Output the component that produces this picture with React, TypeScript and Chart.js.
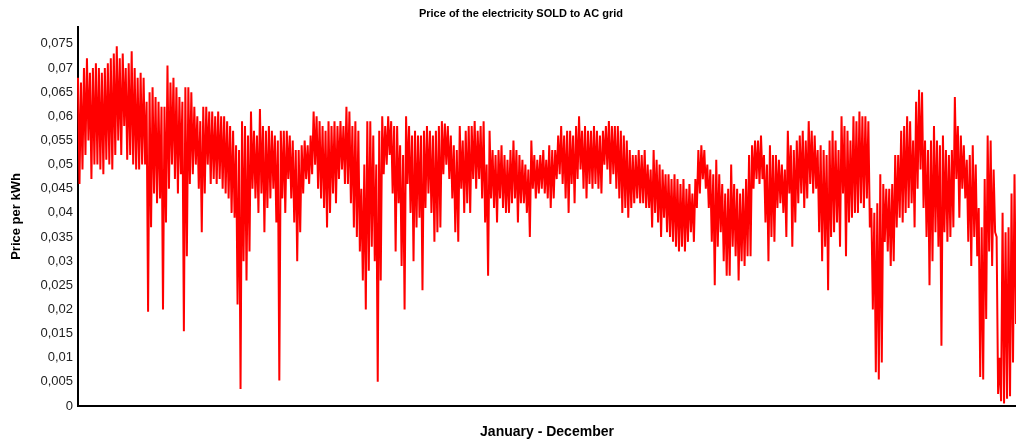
import React, { useEffect, useRef } from "react";
import { Chart, registerables } from "chart.js";

Chart.register(...registerables);

const CHART_TITLE = "Price of the electricity SOLD to AC grid";
const X_TITLE = "January - December";
const Y_TITLE = "Price per kWh";
const Y_TICKS = [0, 0.005, 0.01, 0.015, 0.02, 0.025, 0.03, 0.035, 0.04, 0.045, 0.05, 0.055, 0.06, 0.065, 0.07, 0.075];
const Y_MAX = 0.0785;

const PRICE_PART_1 = [
  0.068, 0.046, 0.067, 0.049, 0.070, 0.052, 0.072, 0.055, 0.069, 0.047, 0.070, 0.050, 0.071, 0.050, 0.070, 0.049, 0.069, 0.048, 0.070, 0.051,
  0.071, 0.050, 0.072, 0.049, 0.073, 0.052, 0.0745, 0.055, 0.072, 0.052, 0.073, 0.058, 0.070, 0.051, 0.071, 0.052, 0.0735, 0.050, 0.070, 0.049,
  0.068, 0.049, 0.069, 0.050, 0.068, 0.050, 0.063, 0.0195, 0.065, 0.037, 0.066, 0.044, 0.064, 0.042, 0.063, 0.043, 0.062, 0.020, 0.062, 0.038,
  0.0705, 0.045, 0.067, 0.050, 0.068, 0.047, 0.066, 0.044, 0.064, 0.048, 0.063, 0.0155, 0.066, 0.031, 0.066, 0.046, 0.065, 0.048, 0.062, 0.050,
  0.060, 0.045, 0.059, 0.036, 0.062, 0.044, 0.062, 0.050, 0.061, 0.046,
];
const PRICE_PART_2 = [
  0.061, 0.047, 0.060, 0.046, 0.061, 0.047, 0.060, 0.045, 0.060, 0.044, 0.059, 0.043, 0.058, 0.040, 0.057, 0.039, 0.054, 0.021, 0.053, 0.0035,
  0.059, 0.030, 0.058, 0.026, 0.056, 0.032, 0.061, 0.045, 0.057, 0.043, 0.056, 0.040, 0.0615, 0.044, 0.058, 0.036, 0.057, 0.041, 0.058, 0.043,
  0.057, 0.045, 0.056, 0.038, 0.055, 0.0053, 0.057, 0.043, 0.057, 0.040, 0.057, 0.047, 0.056, 0.043, 0.055, 0.038, 0.053, 0.030, 0.053, 0.036,
  0.054, 0.044, 0.055, 0.047, 0.054, 0.046, 0.056, 0.048, 0.061, 0.050, 0.060, 0.045, 0.059, 0.043, 0.058, 0.041, 0.057, 0.037, 0.059, 0.040,
  0.058, 0.044, 0.059, 0.042, 0.058, 0.047, 0.059, 0.049, 0.058, 0.046,
];
const PRICE_PART_3 = [
  0.062, 0.046, 0.061, 0.042, 0.058, 0.037, 0.059, 0.035, 0.057, 0.032, 0.045, 0.026, 0.050, 0.020, 0.059, 0.028, 0.059, 0.033, 0.056, 0.030,
  0.050, 0.005, 0.057, 0.026, 0.060, 0.048, 0.058, 0.050, 0.060, 0.052, 0.059, 0.044, 0.058, 0.032, 0.058, 0.042, 0.054, 0.029, 0.052, 0.020,
  0.060, 0.046, 0.058, 0.040, 0.056, 0.030, 0.057, 0.037, 0.056, 0.039, 0.056, 0.024, 0.057, 0.041, 0.058, 0.044, 0.057, 0.040, 0.056, 0.034,
  0.057, 0.036, 0.058, 0.037, 0.059, 0.048, 0.0585, 0.050, 0.058, 0.047, 0.056, 0.043, 0.054, 0.036, 0.053, 0.034, 0.058, 0.045, 0.055, 0.040,
  0.057, 0.042, 0.058, 0.040, 0.058, 0.047, 0.059, 0.045, 0.057, 0.047,
];
const PRICE_PART_4 = [
  0.058, 0.043, 0.059, 0.038, 0.050, 0.027, 0.057, 0.043, 0.053, 0.041, 0.052, 0.038, 0.053, 0.043, 0.054, 0.041, 0.052, 0.040, 0.051, 0.040,
  0.053, 0.042, 0.055, 0.043, 0.053, 0.038, 0.052, 0.042, 0.051, 0.042, 0.050, 0.040, 0.049, 0.035, 0.055, 0.045, 0.052, 0.043, 0.051, 0.044,
  0.052, 0.045, 0.053, 0.044, 0.051, 0.043, 0.054, 0.041, 0.053, 0.043, 0.053, 0.047, 0.056, 0.048, 0.058, 0.046, 0.056, 0.043, 0.057, 0.040,
  0.057, 0.046, 0.056, 0.042, 0.058, 0.047, 0.060, 0.049, 0.057, 0.045, 0.058, 0.043, 0.057, 0.046, 0.057, 0.045, 0.058, 0.046, 0.057, 0.045,
  0.056, 0.044, 0.057, 0.050, 0.058, 0.049, 0.059, 0.046, 0.058, 0.048,
];
const PRICE_PART_5 = [
  0.058, 0.045, 0.058, 0.043, 0.057, 0.040, 0.056, 0.041, 0.055, 0.039, 0.053, 0.041, 0.052, 0.042, 0.052, 0.043, 0.053, 0.042, 0.052, 0.042,
  0.053, 0.041, 0.050, 0.041, 0.049, 0.037, 0.053, 0.040, 0.051, 0.038, 0.050, 0.035, 0.049, 0.039, 0.048, 0.036, 0.048, 0.035, 0.047, 0.034,
  0.048, 0.033, 0.047, 0.032, 0.046, 0.033, 0.047, 0.032, 0.045, 0.034, 0.046, 0.036, 0.044, 0.034, 0.047, 0.041, 0.053, 0.044, 0.054, 0.047,
  0.053, 0.045, 0.050, 0.041, 0.049, 0.034, 0.048, 0.025, 0.051, 0.033, 0.048, 0.036, 0.046, 0.030, 0.044, 0.027, 0.045, 0.027, 0.050, 0.033,
  0.046, 0.031, 0.045, 0.026, 0.044, 0.030, 0.045, 0.029, 0.047, 0.031,
];
const PRICE_PART_6 = [
  0.052, 0.031, 0.054, 0.045, 0.055, 0.047, 0.055, 0.046, 0.056, 0.047, 0.052, 0.038, 0.050, 0.030, 0.054, 0.035, 0.052, 0.034, 0.052, 0.041,
  0.051, 0.042, 0.050, 0.040, 0.049, 0.035, 0.057, 0.044, 0.054, 0.033, 0.053, 0.038, 0.055, 0.042, 0.056, 0.044, 0.057, 0.041, 0.055, 0.043,
  0.059, 0.046, 0.057, 0.044, 0.056, 0.045, 0.053, 0.036, 0.054, 0.030, 0.053, 0.033, 0.052, 0.024, 0.055, 0.035, 0.057, 0.036, 0.055, 0.038,
  0.053, 0.033, 0.060, 0.044, 0.058, 0.031, 0.057, 0.038, 0.055, 0.039, 0.060, 0.040, 0.059, 0.040, 0.061, 0.042, 0.060, 0.041, 0.060, 0.043,
  0.059, 0.037, 0.041, 0.020, 0.040, 0.007, 0.042, 0.0055, 0.048, 0.009,
];
const PRICE_PART_7 = [
  0.046, 0.034, 0.045, 0.032, 0.045, 0.029, 0.046, 0.030, 0.052, 0.037, 0.052, 0.039, 0.057, 0.038, 0.058, 0.040, 0.060, 0.041, 0.059, 0.042,
  0.055, 0.037, 0.063, 0.045, 0.0655, 0.049, 0.065, 0.041, 0.055, 0.035, 0.053, 0.025, 0.055, 0.030, 0.058, 0.036, 0.055, 0.033, 0.054, 0.0125,
  0.056, 0.036, 0.053, 0.034, 0.052, 0.035, 0.053, 0.037, 0.064, 0.047, 0.058, 0.039, 0.056, 0.045, 0.054, 0.043, 0.051, 0.034, 0.052, 0.029,
  0.054, 0.035, 0.050, 0.031, 0.041, 0.006, 0.037, 0.0055, 0.047, 0.018, 0.056, 0.032, 0.055, 0.029, 0.049, 0.036, 0.035, 0.0025, 0.010, 0.001,
  0.040, 0.0005, 0.036, 0.0015, 0.037, 0.002, 0.044, 0.009, 0.048, 0.017,
];

const FONT = "'Liberation Sans', Arial, sans-serif";

export default function App() {
  const ref = useRef<HTMLCanvasElement | null>(null);

  useEffect(() => {
    document.body.style.margin = "0";
    const values = [
      ...PRICE_PART_1, ...PRICE_PART_2, ...PRICE_PART_3, ...PRICE_PART_4,
      ...PRICE_PART_5, ...PRICE_PART_6, ...PRICE_PART_7,
    ];
    const labels = values.map((_, i) => String(i));

    const titlePlugin = {
      id: "topTitle",
      afterDraw(chart: any) {
        const ctx = chart.ctx;
        ctx.save();
        ctx.font = `bold 11px ${FONT}`;
        ctx.fillStyle = "#000";
        ctx.textAlign = "center";
        ctx.textBaseline = "middle";
        ctx.fillText(CHART_TITLE, 521, 14);
        ctx.restore();
      },
    };

    const chart = new Chart(ref.current as HTMLCanvasElement, {
      type: "line",
      data: {
        labels,
        datasets: [
          {
            label: "Price",
            data: values,
            borderColor: "#ff0000",
            borderWidth: 2,
            pointRadius: 0,
            tension: 0,
            fill: false,
          },
        ],
      },
      options: {
        responsive: false,
        animation: false,
        layout: { padding: { top: 27, left: 0, right: 0, bottom: 0 } },
        plugins: {
          legend: { display: false },
          tooltip: { enabled: false },
          title: { display: false },
        },
        scales: {
          x: {
            type: "category",
            offset: false,
            grid: { display: false, drawTicks: false },
            border: { display: true, color: "#000", width: 2 },
            ticks: { display: false },
            title: {
              display: true,
              text: X_TITLE,
              color: "#000",
              font: { family: FONT, size: 14, weight: "bold" },
              padding: { top: 0, bottom: 2 },
            },
            afterFit(scale: any) {
              scale.height = 37;
            },
          },
          y: {
            min: 0,
            max: Y_MAX,
            grid: { display: false, drawTicks: false },
            border: { display: true, color: "#000", width: 2 },
            ticks: {
              padding: 5,
              color: "#222",
              font: { family: FONT, size: 13 },
              callback: (v: any) => String(Number(Number(v).toFixed(4))).replace(".", ","),
            },
            afterBuildTicks(scale: any) {
              scale.ticks = Y_TICKS.map((v) => ({ value: v }));
            },
            title: {
              display: true,
              text: Y_TITLE,
              color: "#000",
              font: { family: FONT, size: 13, weight: "bold" },
              padding: { top: 9, bottom: 0 },
            },
            afterFit(scale: any) {
              scale.width = 78;
            },
          },
        },
      },
      plugins: [titlePlugin],
    });

    return () => chart.destroy();
  }, []);

  return (
    <div style={{ width: 1016, height: 443 }}>
      <canvas ref={ref} width={1016} height={443} style={{ display: "block" }} />
    </div>
  );
}
